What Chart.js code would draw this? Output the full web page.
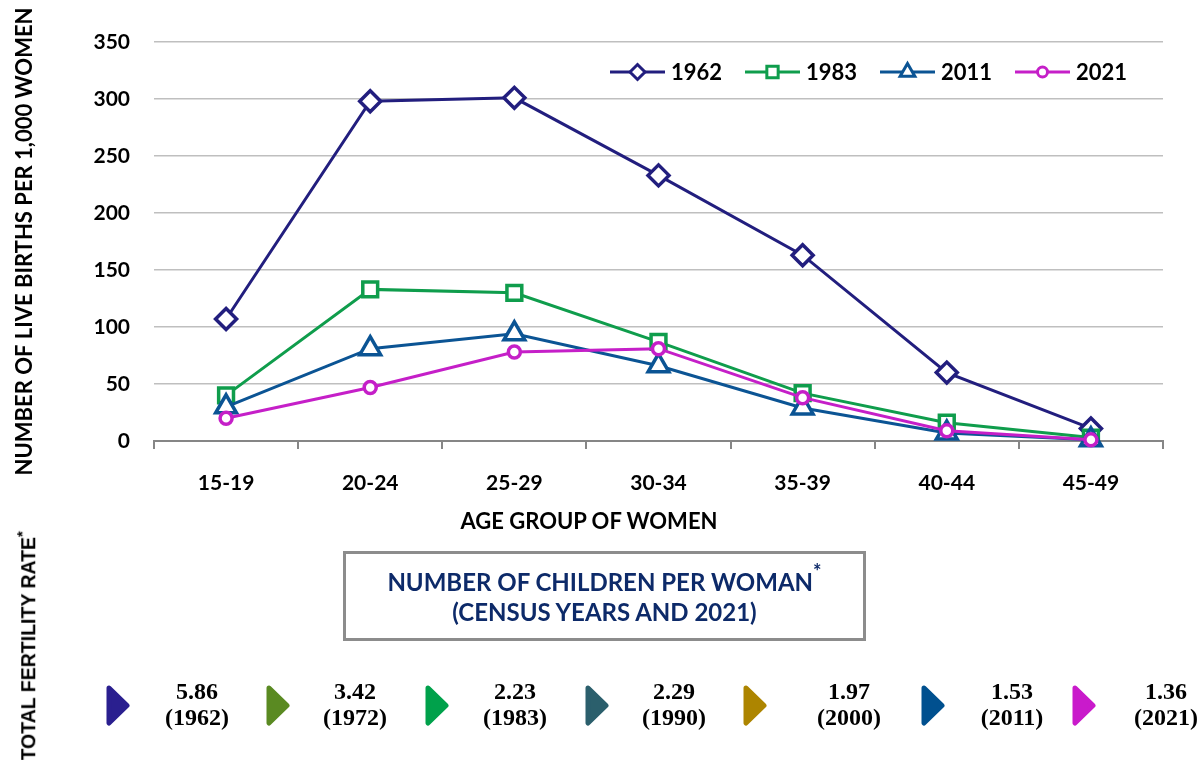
<!DOCTYPE html>
<html>
<head>
<meta charset="utf-8">
<script src="https://cdn.jsdelivr.net/npm/chart.js"></script>
<style>
  body { margin: 0; background: #fff; }
  #page { position: relative; width: 1199px; height: 760px; overflow: hidden; background: #fff; }
  #birthChart { position: absolute; left: 0; top: 0; }
  .xTitle { position: absolute; left: 389px; width: 400px; top: 507px; text-align: center;
    font: bold 22px Lato, sans-serif; color: #000; }
  .tfrBox { position: absolute; left: 343px; top: 551px; width: 517px; padding-top: 5px; height: 79px;
    border: 3px solid #8c8c8c; box-sizing: content-box; text-align: center;
    font: bold 24px Lato, sans-serif; color: #0d2a69; line-height: 30px; }
  .tfrBox sup { font-size: 20px; position: relative; top: -3px; }
  .sideTitle { position: absolute; left: 25px; top: 643px; width: 260px; margin-left: -130px; margin-top: -12px;
    transform: rotate(-90deg); text-align: center; white-space: nowrap;
    font: bold 19.5px "Liberation Sans", Arial, sans-serif; letter-spacing: 0px; color: #000; line-height: 24px; }
  .sideTitle sup { font-size: 15px; }
  .tfrMark { position: absolute; top: 685px; }
  .tfrText { position: absolute; top: 678px; width: 90px; margin-left: -45px; text-align: center;
    font: bold 24px "Liberation Serif", "Times New Roman", serif; line-height: 26px; color: #000; }
</style>
</head>
<body>
<div id="page">
  <canvas id="birthChart" width="1199" height="760"></canvas>
  <div class="xTitle">AGE GROUP OF WOMEN</div>
  <div class="tfrBox">NUMBER OF CHILDREN PER WOMAN<sup>*</sup><br>(CENSUS YEARS AND 2021)</div>
  <div class="sideTitle">TOTAL FERTILITY RATE<sup>*</sup></div>
  <div id="tfrRow"></div>
</div>
<script>
// live births per 1,000 women by age group
const ageGroups = ["15-19", "20-24", "25-29", "30-34", "35-39", "40-44", "45-49"];
const births1962 = [107, 298, 301, 233, 163, 60, 11];
const births1983 = [40, 133, 130, 87, 42, 16, 3];
const births2011 = [30, 81, 94, 66, 29, 7, 1];
const births2021 = [20, 47, 78, 81, 38, 9, 1];

// total fertility rate (children per woman)
const tfrYears = ["1962", "1972", "1983", "1990", "2000", "2011", "2021"];
const tfrValues = [5.86, 3.42, 2.23, 2.29, 1.97, 1.53, 1.36];

// colours and x positions for the fertility rate row
const tfrColors = ["#2a1f8f", "#5a8a22", "#00a14b", "#2b5f6c", "#ad8500", "#00508f", "#c91acb"];
const tfrMarkX = [106, 266, 425, 585, 743, 921, 1072];
const tfrTextX = [197, 355, 515, 674, 849, 1012, 1166];

const row = document.getElementById("tfrRow");
tfrYears.forEach((year, i) => {
    const mark = document.createElement("div");
    mark.className = "tfrMark";
    mark.style.left = tfrMarkX[i] + "px";
    mark.innerHTML = `<svg width="25" height="41"><polygon points="3,3 21,20.5 3,38" fill="${tfrColors[i]}" stroke="${tfrColors[i]}" stroke-width="5" stroke-linejoin="round"/></svg>`;
    row.appendChild(mark);

    const txt = document.createElement("div");
    txt.className = "tfrText";
    txt.style.left = tfrTextX[i] + "px";
    txt.innerHTML = tfrValues[i].toFixed(2) + "<br>(" + year + ")";
    row.appendChild(txt);
});

const axisFont = { family: "Lato", weight: "bold", size: 21 };

// legend drawn inside the plot: short line with marker, then the year
const lineLegend = {
    id: "lineLegend",
    afterDatasetsDraw(chart) {
        const ctx = chart.ctx;
        const y = 72;
        const sizes = { rectRot: 7.5, rect: 8, triangle: 8.5, circle: 5 };
        chart.data.datasets.forEach((ds, i) => {
            const x0 = 610 + i * 135;
            ctx.save();
            ctx.strokeStyle = ds.borderColor;
            ctx.lineWidth = ds.borderWidth;
            ctx.beginPath();
            ctx.moveTo(x0, y);
            ctx.lineTo(x0 + 55, y);
            ctx.stroke();
            ctx.fillStyle = "#fff";
            ctx.lineWidth = 3;
            if (Chart.helpers && Chart.helpers.drawPoint) {
                Chart.helpers.drawPoint(ctx, { pointStyle: ds.pointStyle, radius: sizes[ds.pointStyle], borderWidth: 3, rotation: 0 }, x0 + 27.5, y);
            }
            ctx.fillStyle = "#000";
            ctx.font = "bold 22px Lato";
            ctx.textBaseline = "middle";
            ctx.textAlign = "left";
            ctx.fillText(ds.label, x0 + 61, y + 1);
            ctx.restore();
        });
    }
};

const ctx = document.getElementById("birthChart").getContext("2d");
const birthChart = new Chart(ctx, {
    type: "line",
    data: {
        labels: ageGroups,
        datasets: [
            {
                label: "1962", data: births1962, order: 4,
                borderColor: "#221e7e", borderWidth: 3,
                pointStyle: "rectRot", pointRadius: 10.5, pointBorderWidth: 3.5,
                pointBorderColor: "#221e7e", pointBackgroundColor: "#fff"
            },
            {
                label: "1983", data: births1983, order: 3,
                borderColor: "#0f9d4c", borderWidth: 3,
                pointStyle: "rect", pointRadius: 10.5, pointBorderWidth: 3.5,
                pointBorderColor: "#0f9d4c", pointBackgroundColor: "#fff"
            },
            {
                label: "2011", data: births2011, order: 2,
                borderColor: "#0b5494", borderWidth: 3,
                pointStyle: "triangle", pointRadius: 12, pointBorderWidth: 3.5,
                pointBorderColor: "#0b5494", pointBackgroundColor: "#fff"
            },
            {
                label: "2021", data: births2021, order: 1,
                borderColor: "#c51fc8", borderWidth: 3,
                pointStyle: "circle", pointRadius: 6, pointBorderWidth: 3.5,
                pointBorderColor: "#c51fc8", pointBackgroundColor: "#fff"
            }
        ]
    },
    options: {
        responsive: false,
        animation: false,
        clip: false,
        elements: { line: { tension: 0 } },
        layout: { padding: { left: 0, right: 36, top: 42, bottom: 0 } },
        plugins: {
            legend: { display: false },
            tooltip: { enabled: false }
        },
        scales: {
            x: {
                offset: true,
                grid: { offset: true, drawOnChartArea: false, tickLength: 8, color: "#868686", lineWidth: 2 },
                border: { color: "#868686", width: 2 },
                ticks: { padding: 22, color: "#000", font: axisFont, maxRotation: 0 },
                afterFit(scale) {
                    scale.height = 319;
                    scale.paddingLeft = 0;
                    scale.paddingRight = 0;
                }
            },
            y: {
                min: 0,
                max: 350,
                ticks: { stepSize: 50, padding: 24, color: "#000", font: axisFont },
                grid: {
                    drawTicks: false,
                    lineWidth: 1.5,
                    color: (c) => (c.tick && c.tick.value === 0 ? "#868686" : "#bfbfbf")
                },
                border: { display: false },
                title: {
                    display: true,
                    text: "NUMBER OF LIVE BIRTHS PER 1,000 WOMEN",
                    color: "#000",
                    font: { family: "Lato", weight: "bold", size: 22 },
                    padding: { top: 12, bottom: 0 }
                },
                afterFit(scale) {
                    scale.width = 154;
                    scale.paddingTop = 0;
                    scale.paddingBottom = 0;
                }
            }
        }
    },
    plugins: [lineLegend]
});
</script>
</body>
</html>
